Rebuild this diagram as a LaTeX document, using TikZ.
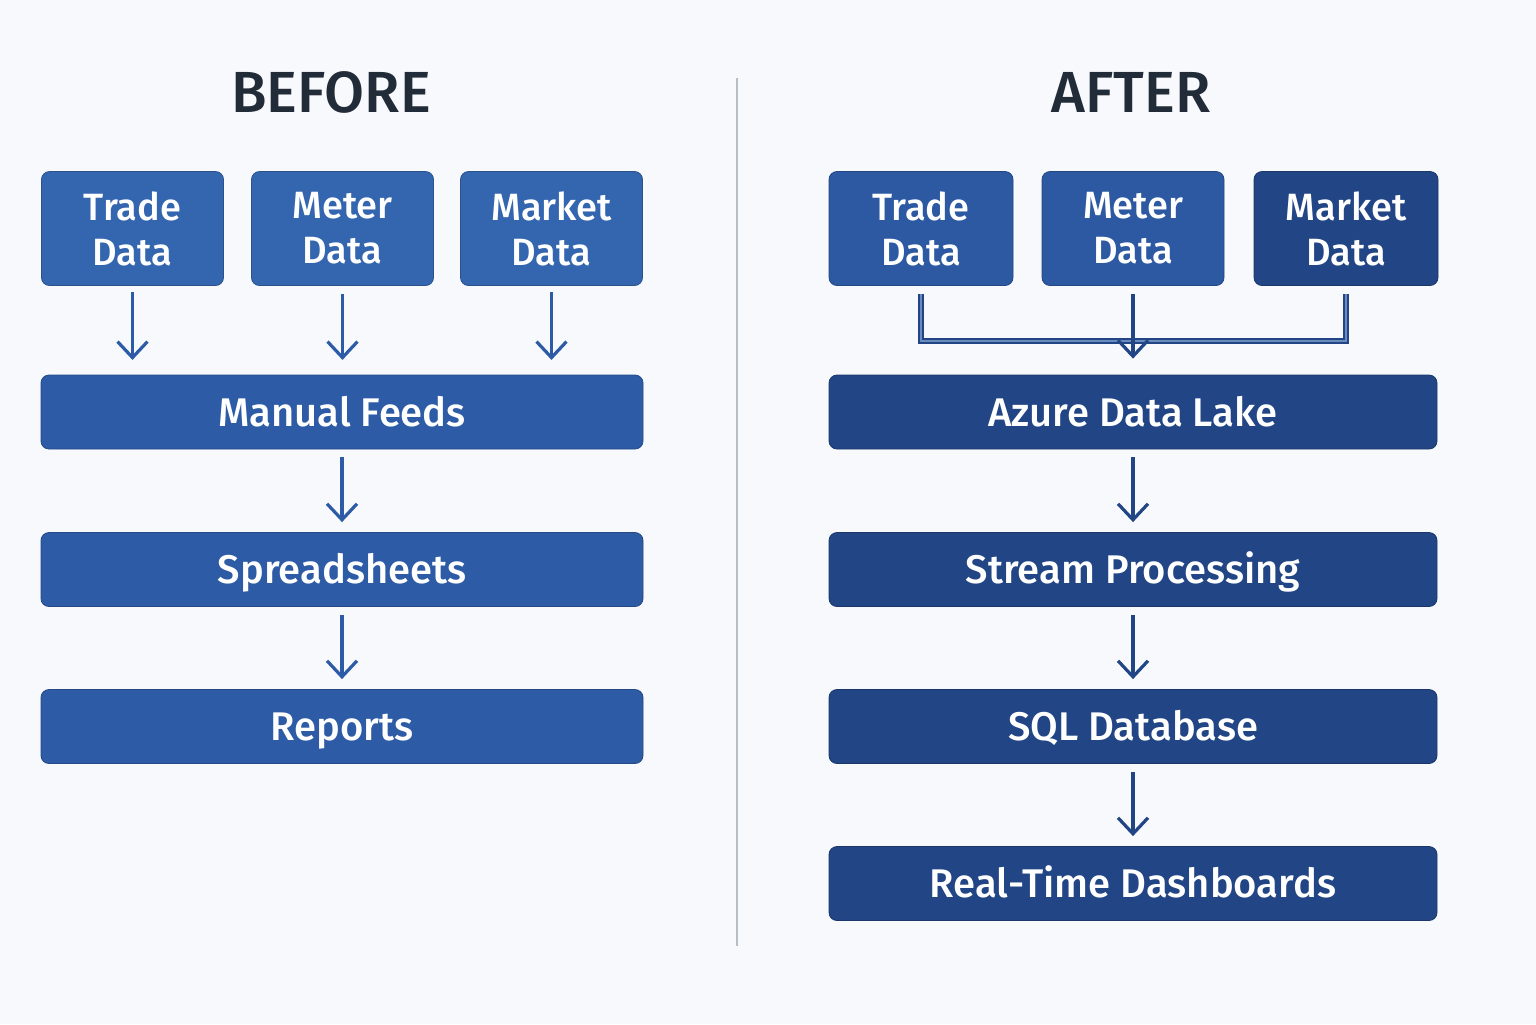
\documentclass[tikz,border=0pt]{standalone}
\usepackage{fontspec}
\setmainfont{Fira Sans}[UprightFont=* Medium]
\usetikzlibrary{arrows.meta}

\definecolor{pagebg}{HTML}{F7F9FC}
\definecolor{titlecol}{HTML}{222B38}
\definecolor{oldblue}{HTML}{2D5BA6}
\definecolor{oldsrc}{HTML}{3466B0}
\definecolor{newblue}{HTML}{224585}
\definecolor{newsrc}{HTML}{2C59A2}
\definecolor{divcol}{HTML}{B8BEC6}

\tikzset{
  srcbox/.style={draw=#1!80!black, line width=0.4pt, fill=#1, rounded corners=4pt,
    minimum width=91pt, minimum height=57pt, text=white, align=center,
    font=\fontsize{19}{22.5}\selectfont},
  stagebox/.style={draw=#1!80!black, line width=0.4pt, fill=#1, rounded corners=4pt,
    minimum width=301pt, minimum height=37pt, text=white,
    text height=14pt, text depth=0pt, font=\fontsize{20}{24}\selectfont},
  flow/.style={draw=#1, line width=1.6pt, -{Straight Barb[length=8pt,width=15pt,line width=1.6pt]}},
  heading/.style={text=titlecol, font=\fontsize{29}{34}\selectfont}
}

\begin{document}
\begin{tikzpicture}[x=0.5pt,y=-0.5pt]
\useasboundingbox[fill=pagebg] (0,0) rectangle (1536,1024);

%%%%%%%%%%%%%%%%%%%%%%%%%%%%%%%%%%%%%%%%%%
% titles and divider
\node[heading] (before) at (331,92) {BEFORE};
\node[heading] (after) at (1131,92) {AFTER};
\coordinate (divtop) at (737,78);
\coordinate (divbot) at (737,946);
\draw[divcol, line width=0.6pt] (divtop) -- (divbot);

%%%%%%%%%%%%%%%%%%%%%%%%%%%%%%%%%%%%%%%%%%
% before
\node[srcbox=oldsrc] (btrade) at (132.5,228.5) {Trade\\Data};
\node[srcbox=oldsrc] (bmeter) at (342.5,228.5) {Meter\\Data};
\node[srcbox=oldsrc] (bmarket) at (551.5,228.5) {Market\\Data};
\node[stagebox=oldblue] (manual) at (342,412) {Manual Feeds};
\node[stagebox=oldblue] (sheets) at (342,569.5) {Spreadsheets};
\node[stagebox=oldblue] (reports) at (342,726.5) {Reports};

\draw[flow=oldblue] (btrade.south) ++(0,6) -- ++(0,68);
\draw[flow=oldblue] (bmeter.south) ++(0,8) -- ++(0,66);
\draw[flow=oldblue] (bmarket.south) ++(0,6) -- ++(0,68);
\draw[flow=oldblue] ([yshift=-4pt]manual.south) -- ([yshift=5pt]sheets.north);
\draw[flow=oldblue] ([yshift=-4pt]sheets.south) -- ([yshift=5pt]reports.north);

%%%%%%%%%%%%%%%%%%%%%%%%%%%%%%%%%%%%%%%%%%
% after
\node[srcbox=newsrc, minimum width=92pt] (atrade) at (921,228.5) {Trade\\Data};
\node[srcbox=newsrc] (ameter) at (1133,228.5) {Meter\\Data};
\node[srcbox=newblue, minimum width=92pt] (amarket) at (1346,228.5) {Market\\Data};
\node[stagebox=newblue, minimum width=304pt] (lake) at (1133,412) {Azure Data Lake};
\node[stagebox=newblue, minimum width=304pt] (stream) at (1133,569.5) {Stream Processing};
\node[stagebox=newblue, minimum width=304pt] (sql) at (1133,726.5) {SQL Database};
\node[stagebox=newblue, minimum width=304pt] (dash) at (1133,883.5) {Real-Time Dashboards};

\coordinate (merge) at (1132,341);
\draw[newblue, line width=1pt, double=newsrc!70!white, double distance=1.1pt]
  ([yshift=-4pt]atrade.south) |- (merge) -| ([yshift=-4pt]amarket.south);
\draw[flow=newblue] ([yshift=-4pt]ameter.south) -- ([yshift=8pt]lake.north);
\draw[flow=newblue] ([yshift=-4pt]lake.south) -- ([yshift=5pt]stream.north);
\draw[flow=newblue] ([yshift=-4pt]stream.south) -- ([yshift=5pt]sql.north);
\draw[flow=newblue] ([yshift=-4pt]sql.south) -- ([yshift=5pt]dash.north);
\end{tikzpicture}
\end{document}
